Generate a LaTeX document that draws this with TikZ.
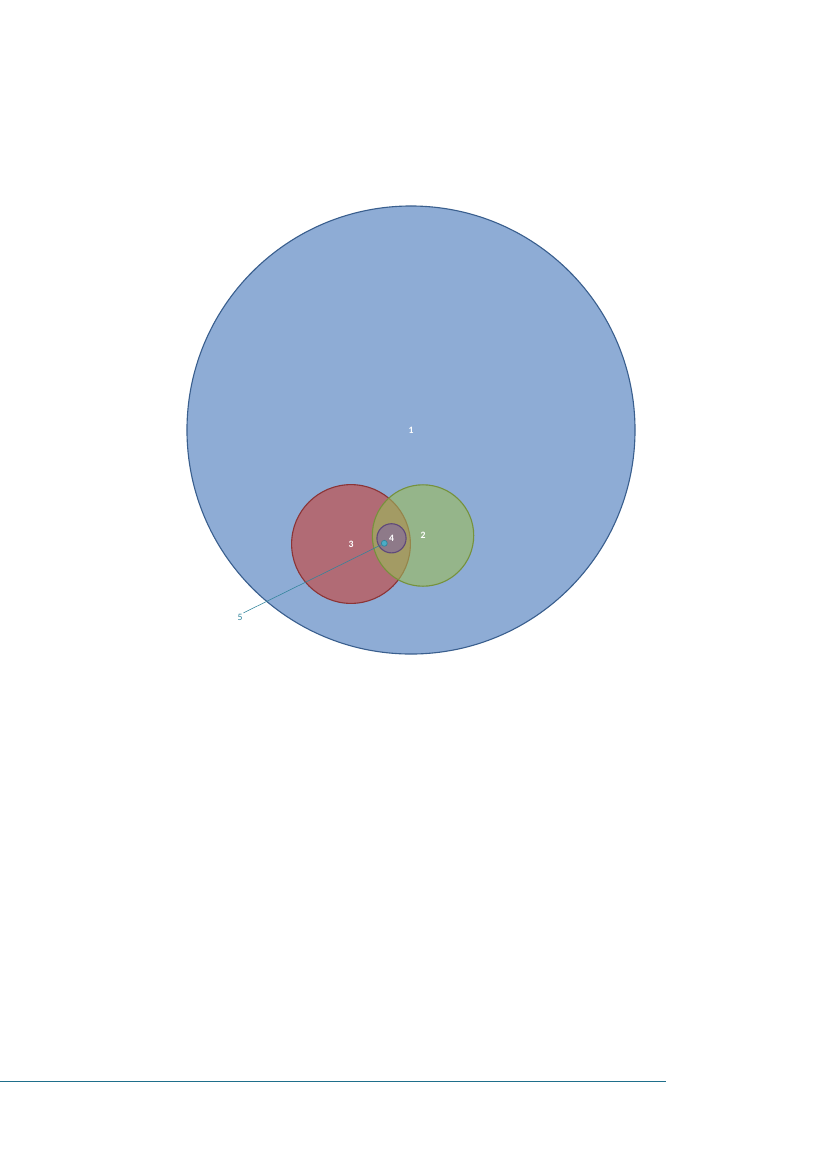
\documentclass[tikz,border=0pt]{standalone}
\usepackage{fontspec}
\setmainfont{Carlito}
\usepackage{tikz}
\usetikzlibrary{positioning}
\definecolor{blueset}{HTML}{8EACD5}
\definecolor{blueline}{HTML}{3A5F8E}
\definecolor{redset}{HTML}{C0504D}
\definecolor{redline}{HTML}{8C3436}
\definecolor{greenset}{HTML}{9BBB59}
\definecolor{greenline}{HTML}{76923C}
\definecolor{purpleset}{HTML}{8064A2}
\definecolor{purpleline}{HTML}{5F497A}
\definecolor{tealset}{HTML}{4BACC6}
\definecolor{tealline}{HTML}{31849B}
\definecolor{ruleline}{HTML}{1F6F8B}
\tikzset{%
	set/.style={draw, circle, inner sep=0mm, text=white, font=\fontsize{7}{8}\selectfont\bfseries},
	outer/.style={set, fill=blueset, draw=blueline, line width=0.8pt},
	redset/.style={set, fill=redset, fill opacity=0.7, text opacity=1, draw=redline, line width=0.8pt},
	greenset/.style={set, fill=greenset, fill opacity=0.6, text opacity=1, draw=greenline, line width=0.8pt},
	purpleset/.style={set, fill=purpleset, fill opacity=0.6, text opacity=1, draw=purpleline, line width=0.8pt},
	dot/.style={draw=tealline, circle, fill=tealset, inner sep=0mm, minimum size=4.3pt, line width=0.5pt},
	callout/.style={text=tealline, font=\fontsize{7}{8}\selectfont, inner sep=0.5pt},
	connector/.style={draw=tealline, line width=0.4pt}
}
\begin{document}
\begin{tikzpicture}[x=0.7198pt, y=-0.7198pt]
	\useasboundingbox (0,0) rectangle (827,1169);
	\node[outer, minimum size=322.5pt] (one) at (411,430) {1};
	\node[redset, minimum size=85.5pt] (three) at (351,544) {3};
	\node[greenset, minimum size=73pt] (two) at (423,535.5) {2};
	\node[purpleset, minimum size=21pt] (four) at (391.5,538.3) {4};
	\node[dot] (five) at (384.3,543.3) {};
	\node[callout] (five-label) at (240,617) {5};
	\draw [connector] (five-label.north east) to (five);
	% bottom rule
	\coordinate (rule-l) at (0,1081.5);
	\coordinate (rule-r) at (666,1081.5);
	\draw [ruleline, line width=1pt] (rule-l) -- (rule-r);
\end{tikzpicture}
\end{document}
